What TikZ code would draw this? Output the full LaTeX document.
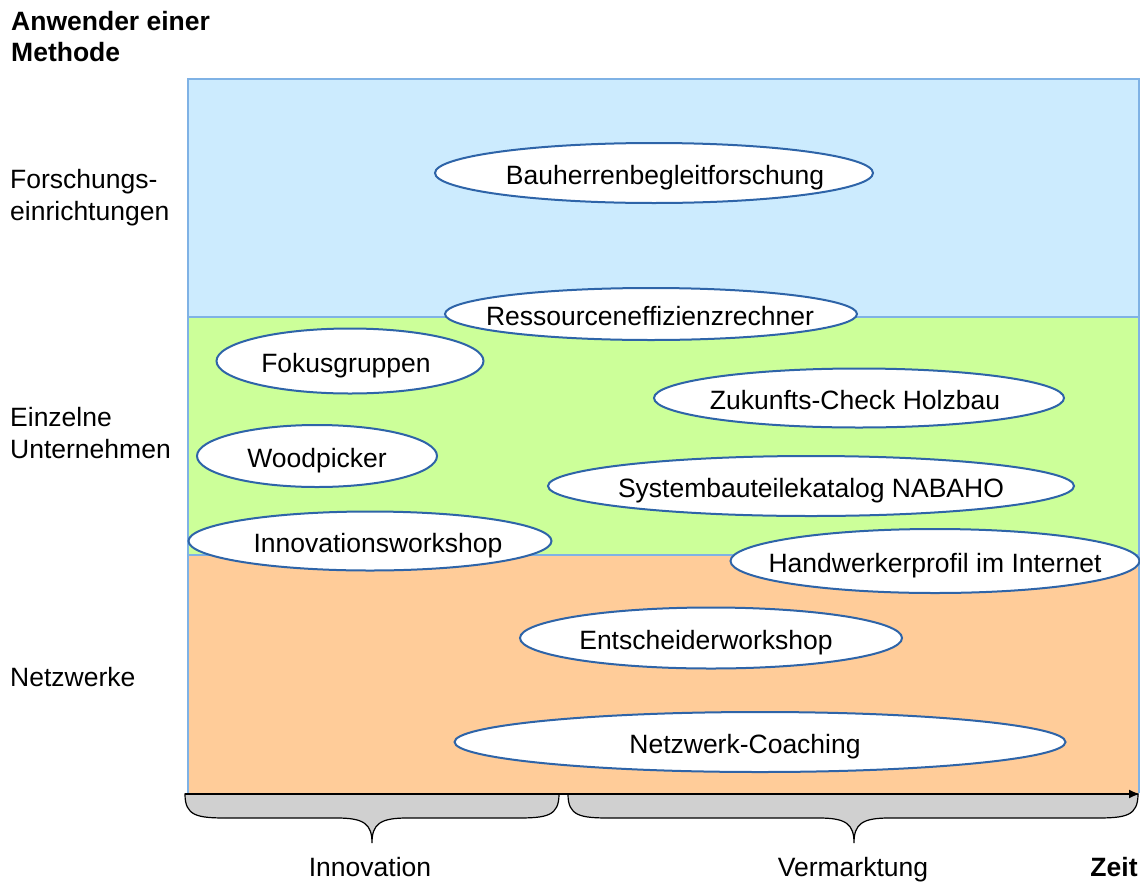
\documentclass[tikz,border=0pt]{standalone}
\usepackage{fontspec}
\setmainfont{Liberation Sans}
\usetikzlibrary{shapes.geometric,arrows.meta}
\definecolor{bandblue}{HTML}{CCEBFE}
\definecolor{bandgreen}{HTML}{CCFF99}
\definecolor{bandorange}{HTML}{FFCC99}
\definecolor{bandline}{HTML}{7FB2E5}
\definecolor{ellline}{HTML}{2E64A8}
\definecolor{bracegray}{HTML}{D0D0D0}
\newcommand{\etxt}[2]{\makebox[0pt]{\hspace*{#1pt}#2}}
\begin{document}
\begin{tikzpicture}[x=1pt,y=-1pt,
  every node/.style={font=\fontsize{26.5}{32}\selectfont, inner sep=0pt},
  ell/.style={ellipse, draw=ellline, line width=2pt, fill=white, text height=22pt, text depth=0pt},
  lab/.style={anchor=west, align=left},
  band/.style={draw=bandline, line width=1.5pt},
  bracebox/.style={fill=bracegray, draw=black, line width=1.2pt}]
\useasboundingbox (0,0) rectangle (1140,881);
% bands
\fill[bandblue] (188,79) rectangle (1139,317);
\fill[bandgreen] (188,317) rectangle (1139,555);
\fill[bandorange] (188,555) rectangle (1139,793);
\draw[band] (188,793) -- (188,79) -- (1139,79) -- (1139,793);
\draw[band] (188,317) -- (1139,317);
\draw[band] (188,555) -- (1139,555);
% braces
\def\bracepath#1#2#3{%
  \path[bracebox] (#1,794) .. controls (#1,816) and (#1+12,818) .. (#1+42,818)
    -- (#2-35,818) .. controls (#2-8,818) and (#2,824) .. (#2,843)
    .. controls (#2,824) and (#2+8,818) .. (#2+35,818)
    -- (#3-42,818) .. controls (#3-12,818) and (#3,816) .. (#3,794) -- cycle;}
\bracepath{185}{372}{559}
\bracepath{568}{854}{1138}
% axis
\coordinate (ax0) at (185,794);
\coordinate (ax1) at (1140,794);
\draw[line width=2pt, -{Latex[length=11pt,width=9pt]}] (ax0) -- (ax1);
% labels
\node[lab, font=\fontsize{26.5}{31}\selectfont\bfseries] (title) at (11,37) {Anwender einer\\Methode};
\node[lab] (forsch) at (10,198) {Forschungs-\\einrichtungen};
\node[lab] (einz) at (10,433) {Einzelne\\Unternehmen};
\node[lab] (netz) at (10,677) {Netzwerke};
\node[anchor=base] (innov) at (370,876) {Innovation};
\node[anchor=base] (verm) at (853,876) {Vermarktung};
\node[anchor=base, font=\fontsize{26.5}{32}\selectfont\bfseries] (zeit) at (1114,876) {Zeit};
% ellipses
\node[ell, minimum width=438pt, minimum height=60pt] (bau) at (654,173) {\etxt{22}{Bauherrenbegleitforschung}};
\node[ell, minimum width=412pt, minimum height=52pt] (res) at (651,314) {\etxt{-2}{Ressourceneffizienzrechner}};
\node[ell, minimum width=267pt, minimum height=65pt] (fok) at (350,361) {\etxt{-8}{Fokusgruppen}};
\node[ell, minimum width=410pt, minimum height=59pt] (zuk) at (859,398) {\etxt{-8}{Zukunfts-Check Holzbau}};
\node[ell, minimum width=240pt, minimum height=62pt] (wood) at (317,456) {\etxt{0}{Woodpicker}};
\node[ell, minimum width=526pt, minimum height=60pt] (sys) at (811,486) {\etxt{0}{Systembauteilekatalog NABAHO}};
\node[ell, minimum width=363pt, minimum height=59pt] (inno) at (370,541) {\etxt{16}{Innovationsworkshop}};
\node[ell, minimum width=409pt, minimum height=64pt] (hand) at (935,561) {\etxt{0}{Handwerkerprofil im Internet}};
\node[ell, minimum width=382pt, minimum height=61pt] (ent) at (711,638) {\etxt{-10}{Entscheiderworkshop}};
\node[ell, minimum width=611pt, minimum height=60pt] (netzc) at (760,742) {\etxt{-30}{Netzwerk-Coaching}};
\end{tikzpicture}
\end{document}
